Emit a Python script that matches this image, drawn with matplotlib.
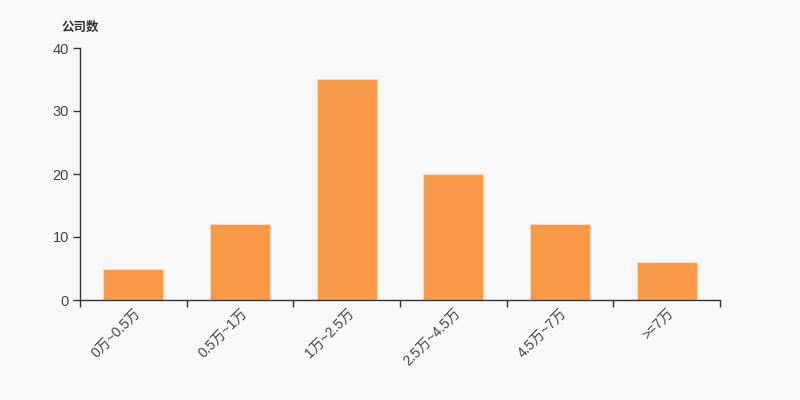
import matplotlib
matplotlib.use("Agg")
import matplotlib.pyplot as plt
import numpy as np

plt.rcParams['font.family'] = ['Liberation Sans', 'Noto Sans CJK SC', 'DejaVu Sans']

categories = ["0万~0.5万", "0.5万~1万", "1万~2.5万", "2.5万~4.5万", "4.5万~7万", ">=7万"]
values = [5, 12, 35, 20, 12, 6]
yticks = [0, 10, 20, 30, 40]

bg = '#f8f8f8'
fig = plt.figure(figsize=(8, 4), dpi=100, facecolor=bg)
ax = fig.add_axes([80/800, 1-300/400, 640/800, 252/400], facecolor=bg)

x = np.arange(len(categories))
ax.bar(x, values, width=0.56, color='#f8994a', edgecolor='#fcd9bd', linewidth=0.8, zorder=2)

ax.set_xlim(-0.5, len(categories)-0.5)
ax.set_ylim(0, 40)
ax.set_yticks(yticks)
ax.set_yticklabels([str(v) for v in yticks], fontsize=10.5, color='#444444')

ax.set_xticks(np.arange(len(categories)+1) - 0.5)
ax.set_xticklabels([])
ax.set_xticks(x, minor=True)
ax.set_xticklabels(categories, minor=True, rotation=45, ha='right', va='top',
                   rotation_mode='anchor', fontsize=10, color='#444444')
ax.tick_params(axis='x', which='minor', length=0, pad=4)
ax.tick_params(axis='x', which='major', length=5, width=1, color='#333333', direction='out')
ax.tick_params(axis='y', length=5, width=1, color='#333333', direction='out', pad=3)

for s in ['top', 'right']:
    ax.spines[s].set_visible(False)
for s in ['left', 'bottom']:
    ax.spines[s].set_color('#333333')
    ax.spines[s].set_linewidth(1)

fig.text(80/800, 1-27/400, '公司数', fontsize=9, fontweight='bold', color='#333333',
         ha='center', va='center', family=['Noto Sans CJK SC', 'DejaVu Sans'])

fig.savefig('out.png', dpi=100, facecolor=bg)
